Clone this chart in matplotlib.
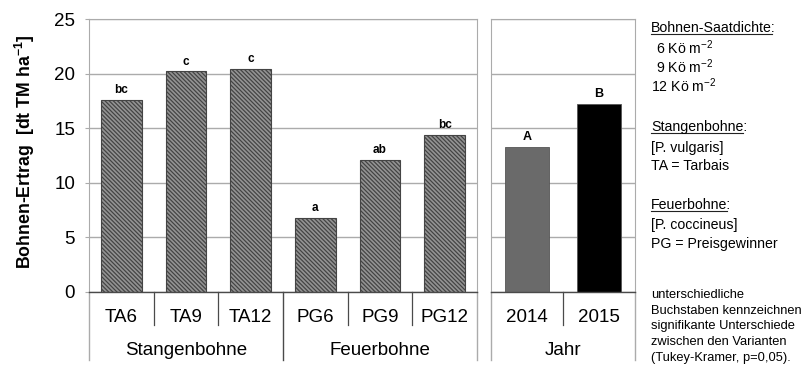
import matplotlib
matplotlib.use("Agg")
import matplotlib.pyplot as plt
import matplotlib.transforms as mtransforms

plt.rcParams['font.family'] = ['Liberation Sans', 'DejaVu Sans']
plt.rcParams['mathtext.fontset'] = 'custom'
plt.rcParams['mathtext.rm'] = 'Liberation Sans'
plt.rcParams['mathtext.it'] = 'Liberation Sans:italic'
plt.rcParams['mathtext.bf'] = 'Liberation Sans:bold'
plt.rcParams['hatch.linewidth'] = 0.9
plt.rcParams['hatch.color'] = '#333333'

# Daten
varianten = ["TA6", "TA9", "TA12", "PG6", "PG9", "PG12"]
gruppen = ["Stangenbohne", "Feuerbohne"]
ertrag = [17.6, 20.2, 20.4, 6.75, 12.1, 14.4]
buchstaben = ["bc", "c", "c", "a", "ab", "bc"]

jahre = ["2014", "2015"]
ertrag_jahr = [13.3, 17.2]
buchstaben_jahr = ["A", "B"]
farben_jahr = ["#6a6a6a", "#000000"]

grid_col = '#ababab'
dark = '#4a4a4a'
FS = 13.5

W, H = 807, 367
fig = plt.figure(figsize=(W/100, H/100), dpi=100)
ax1 = fig.add_axes([89/W, 1-292/H, (477-89)/W, (292-19)/H])
ax2 = fig.add_axes([491/W, 1-292/H, (635-491)/W, (292-19)/H])


def style(ax, n, labels, glabels, gbounds):
    ax.set_ylim(0, 25)
    ax.set_xlim(-0.5, n-0.5)
    ax.set_yticks([0, 5, 10, 15, 20, 25])
    ax.yaxis.grid(True, color=grid_col, lw=1)
    ax.set_axisbelow(True)
    for s in ['top', 'right', 'left']:
        ax.spines[s].set_color(grid_col)
    ax.spines['bottom'].set_color(dark)
    ax.spines['bottom'].set_linewidth(1.0)
    ax.set_xticks([])
    trans = mtransforms.blended_transform_factory(ax.transData, ax.transAxes)
    for i, lab in enumerate(labels):
        ax.text(i, -0.109, lab, transform=trans, ha='center', va='baseline', fontsize=FS)
    # kurze Trennstriche
    for i in range(n-1):
        xs = i + 0.5
        if xs in gbounds:
            continue
        ax.plot([xs, xs], [0, -0.121], color=dark, lw=0.9, transform=trans, clip_on=False)
    # lange Trennstriche
    for xs in gbounds:
        col = grid_col if xs in (-0.5, n-0.5) else dark
        ax.plot([xs, xs], [0, -0.249], color=col, lw=1.0, transform=trans, clip_on=False)
    for txt, xc in glabels:
        ax.text(xc, -0.231, txt, transform=trans, ha='center', va='baseline', fontsize=FS)


ax1.bar(range(len(varianten)), ertrag, width=0.634, color='#939393',
        edgecolor='#444444', linewidth=0.8, hatch='\\' * 8)
for i, (v, b) in enumerate(zip(ertrag, buchstaben)):
    ax1.text(i, v + 0.35, b, ha='center', va='bottom', fontsize=8.5, fontweight='bold')
style(ax1, 6, varianten, [(gruppen[0], 1), (gruppen[1], 4)], [-0.5, 2.5, 5.5])
ax1.tick_params(axis='y', labelsize=FS, length=3, color=grid_col, pad=7)
ax1.set_ylabel("Bohnen-Ertrag  [dt TM ha$^{\\mathbf{-1}}$]", fontsize=12.8,
               fontweight='bold', va='center')
ax1.yaxis.set_label_coords(-0.166, 0.515)

ax2.bar(range(len(jahre)), ertrag_jahr, width=0.61, color=farben_jahr,
        edgecolor='#555555', linewidth=0.6)
for i, (v, b) in enumerate(zip(ertrag_jahr, buchstaben_jahr)):
    ax2.text(i, v + 0.35, b, ha='center', va='bottom', fontsize=9, fontweight='bold')
style(ax2, 2, jahre, [("Jahr", 0.5)], [-0.5, 1.5])
ax2.tick_params(axis='y', left=False, labelleft=False)

# Legende rechts (x, Grundlinie y, Text, unterstrichen)
legende = [
    (651, 32.5, "Bohnen-Saatdichte:", True),
    (656, 54, "6 Kö m$^{-2}$", False),
    (656, 73, "9 Kö m$^{-2}$", False),
    (651, 92, "12 Kö m$^{-2}$", False),
    (651, 131, "Stangenbohne:", True),
    (651, 152, "[P. vulgaris]", False),
    (651, 170, "TA = Tarbais", False),
    (651, 209, "Feuerbohne:", True),
    (651, 229, "[P. coccineus]", False),
    (651, 248, "PG = Preisgewinner", False),
]
fig.canvas.draw()
renderer = fig.canvas.get_renderer()
for x, y, txt, unterstr in legende:
    t = fig.text(x/W, 1-y/H, txt, ha='left', va='baseline', fontsize=10.2)
    if unterstr:
        w = t.get_window_extent(renderer=renderer).width
        # Unterstreichung ohne Doppelpunkt
        tc = fig.text(0, 0, ":", fontsize=10.2)
        wc = tc.get_window_extent(renderer=renderer).width
        tc.remove()
        fig.add_artist(plt.Line2D([x/W, (x + w - wc)/W],
                                  [1-(y+1.8)/H, 1-(y+1.8)/H],
                                  color='#222222', lw=0.8))

fussnote = ["unterschiedliche", "Buchstaben kennzeichnen", "signifikante Unterschiede",
            "zwischen den Varianten", "(Tukey-Kramer, p=0,05)."]
for k, zeile in enumerate(fussnote):
    fig.text(651/W, 1-(298 + k*15.7)/H, zeile, ha='left', va='baseline', fontsize=9.3)

fig.savefig("out.png", dpi=100)
